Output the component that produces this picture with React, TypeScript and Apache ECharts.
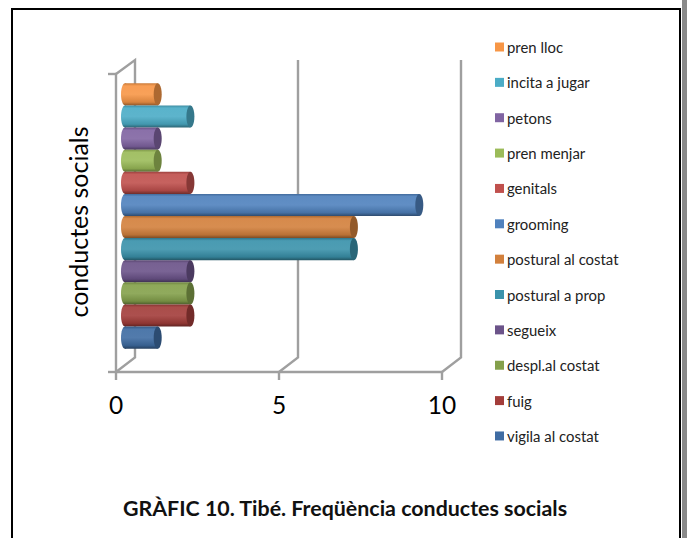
import React, { useEffect, useRef } from "react";
import * as echarts from "echarts";

const categories = ["vigila al costat", "fuig", "despl.al costat", "segueix", "postural a prop", "postural al costat", "grooming", "genitals", "pren menjar", "petons", "incita a jugar", "pren lloc"];
const values = [1, 2, 2, 2, 7, 7, 9, 2, 1, 1, 2, 1];
const colors = ["#3F6CA3", "#A33D3A", "#84A04B", "#6B5389", "#3A92AB", "#D2803C", "#4F81BD", "#C0504D", "#9BBB59", "#8064A2", "#4BACC6", "#F79646"];
const axisTicks = [0, 5, 10];
const FONT = "Lato, 'Open Sans', sans-serif";
const GRAY = "#9F9F9F";

function shade(hex: string, k: number) {
  const n = parseInt(hex.slice(1), 16);
  const f = (c: number) => {
    const v = k < 0 ? c * (1 + k) : c + (255 - c) * k;
    return Math.round(v).toString(16).padStart(2, "0");
  };
  return "#" + f((n >> 16) & 255) + f((n >> 8) & 255) + f(n & 255);
}

const RX = 4;

function barItem(color: string, catIndex: number) {
  return (_p: any, api: any) => {
    const end = api.coord([api.value(0), catIndex]);
    const start = api.coord([0, catIndex]);
    const h = api.size([0, 1])[1];
    const top = end[1] - h / 2;
    const fill = new echarts.graphic.LinearGradient(0, 0, 0, 1, [
      { offset: 0, color: shade(color, -0.18) },
      { offset: 0.12, color: shade(color, 0.08) },
      { offset: 0.5, color: shade(color, 0.1) },
      { offset: 0.85, color: shade(color, -0.12) },
      { offset: 1, color: shade(color, -0.42) },
    ]);
    return {
      type: "group",
      children: [
        { type: "ellipse", shape: { cx: start[0], cy: end[1], rx: RX, ry: h / 2 }, style: { fill } },
        { type: "rect", shape: { x: start[0], y: top, width: end[0] - start[0], height: h }, style: { fill } },
        { type: "ellipse", shape: { cx: end[0], cy: end[1], rx: RX, ry: h / 2 }, style: { fill: shade(color, -0.3) } },
      ],
    };
  };
}

function wallItem(_p: any, api: any) {
  const v = api.value(0);
  const front = api.coord([v, 0]);
  const topFront = api.coord([v, 1]);
  const dx = 19;
  const floor = front[1] - 14.5;
  const ceil = topFront[1] - 14;
  const pts: number[][] = [[front[0], front[1]], [front[0] + dx, floor], [front[0] + dx, ceil]];
  if (v === 0) pts.push([topFront[0], topFront[1]]);
  return { type: "polyline", shape: { points: pts }, style: { fill: "none", stroke: GRAY, lineWidth: 2.4 } };
}

export default function App() {
  const ref = useRef<HTMLDivElement>(null);
  useEffect(() => {
    document.body.style.margin = "0";
    const chart = echarts.init(ref.current!, undefined, { renderer: "svg" });
    chart.setOption({
      animation: false,
      backgroundColor: "#fff",
      grid: [
        { left: 116, right: 687 - 442, top: 74, height: 298 },
        { left: 125, width: 327, top: 83.3, height: 265.4 },
      ],
      xAxis: [
        {
          type: "value", gridIndex: 0, min: 0, max: 10, interval: 5,
          axisLine: { show: true, lineStyle: { color: GRAY, width: 2.4 } },
          axisTick: { show: true, length: 8, lineStyle: { color: GRAY, width: 2.4 } },
          axisLabel: { show: true, color: "#000", fontFamily: FONT, fontSize: 24.5, margin: 20, formatter: (v: number) => (axisTicks.includes(v) ? String(v) : "") },
          splitLine: { show: false },
        },
        { type: "value", gridIndex: 1, min: 0, max: 10, show: false },
      ],
      yAxis: [
        {
          type: "value", gridIndex: 0, min: 0, max: 1, interval: 1,
          axisLine: { show: true, lineStyle: { color: GRAY, width: 2.4 } },
          axisTick: { show: true, length: 8, lineStyle: { color: GRAY, width: 2.4 } },
          axisLabel: { show: false },
          splitLine: { show: false },
        },
        { type: "category", gridIndex: 1, data: categories, show: false },
      ],
      legend: {
        orient: "vertical", left: 495, top: 39.5, padding: 0, itemWidth: 9, itemHeight: 9, itemGap: 20.36,
        icon: "rect", selectedMode: false,
        data: [...categories].reverse(),
        textStyle: { fontFamily: FONT, fontSize: 14.9, color: "#222", lineHeight: 14, padding: [0, 0, 0, -2] },
        itemStyle: { borderWidth: 0 },
      },
      series: [
        {
          type: "custom", name: "walls", xAxisIndex: 0, yAxisIndex: 0, z: 1, silent: true,
          data: axisTicks.map((t) => [t]), encode: { x: 0 }, renderItem: wallItem,
        },
        ...categories.map((name, i) => ({
          type: "custom", name, xAxisIndex: 1, yAxisIndex: 1, z: 2 + (categories.length - i),
          itemStyle: { color: colors[i] },
          data: [[values[i], i]], encode: { x: 0, y: 1 },
          renderItem: barItem(colors[i], i),
        })),
      ],
      graphic: [
        { type: "rect", z: -1, shape: { x: 12, y: 9, width: 668, height: 540 }, style: { fill: "none", stroke: "#000", lineWidth: 2 } },
        { type: "rect", z: -1, shape: { x: 682, y: 0, width: 5, height: 538 }, style: { fill: "#8a8a8a" } },
        { type: "text", rotation: Math.PI / 2, x: 78, y: 222, style: { text: "conductes socials", fontFamily: FONT, fontSize: 25, fill: "#000", align: "center", verticalAlign: "middle" } },
        { type: "text", x: 345, y: 508, style: { text: "GRÀFIC 10. Tibé. Freqüència conductes socials", fontFamily: FONT, fontSize: 21.4, fontWeight: "bold", fill: "#111", align: "center", verticalAlign: "middle" } },
      ],
    });
    return () => chart.dispose();
  }, []);
  return <div ref={ref} style={{ width: 687, height: 538 }} />;
}
